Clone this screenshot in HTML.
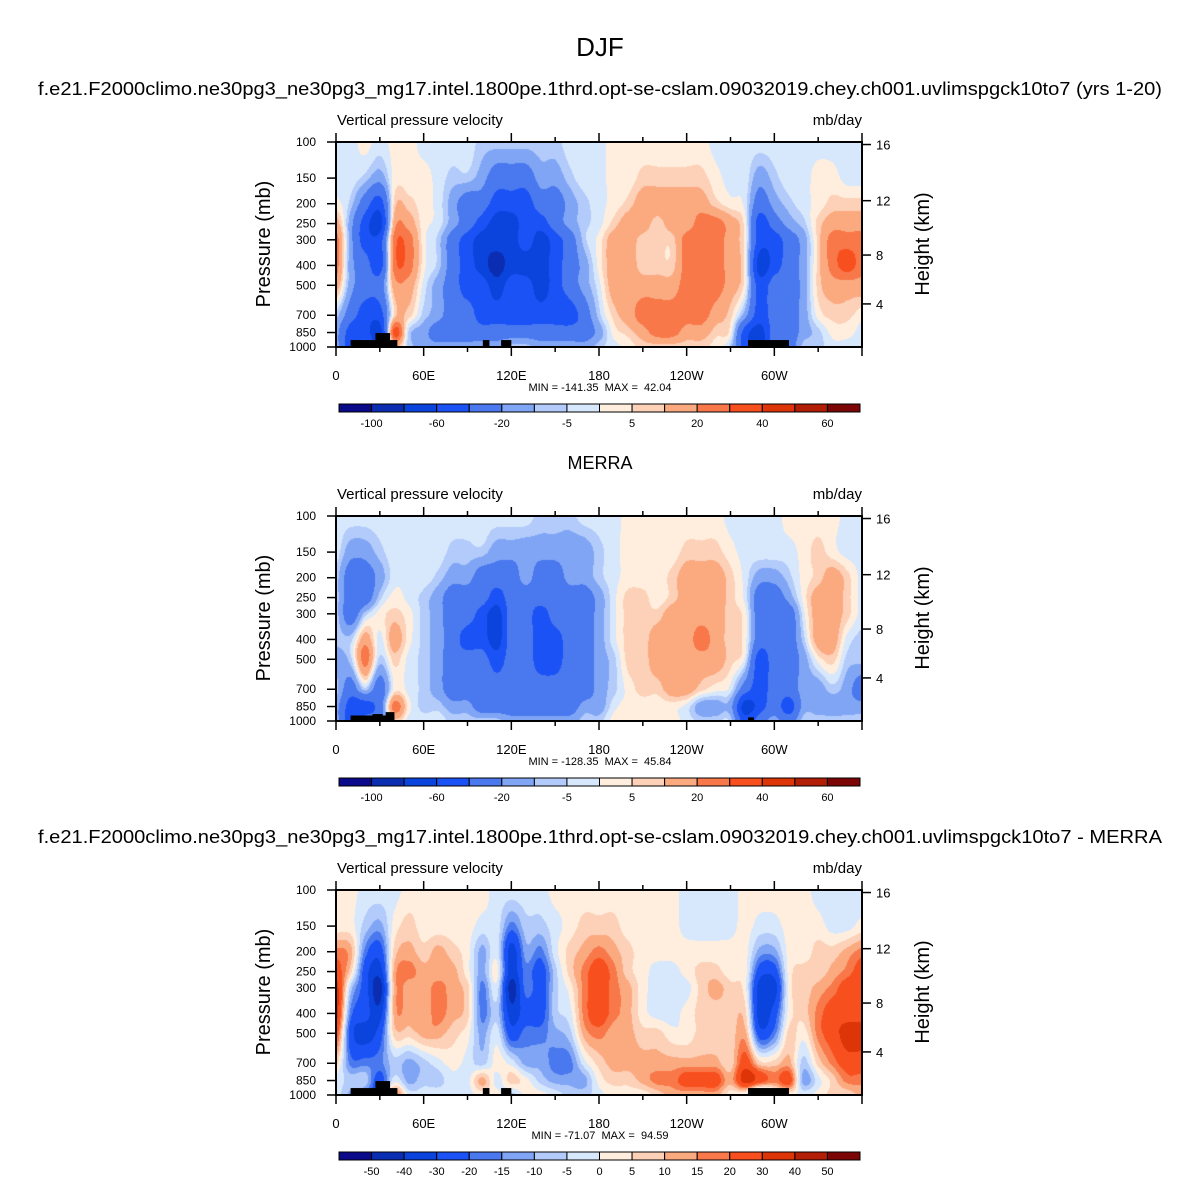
<!DOCTYPE html>
<html><head><meta charset="utf-8"><style>
html,body{margin:0;padding:0;background:#fff;}
#root{position:relative;width:1200px;height:1202px;overflow:hidden;font-family:"Liberation Sans",sans-serif;}
canvas{position:absolute;}
svg{position:absolute;left:0;top:0;}
</style></head><body>
<div id="root">
<canvas id="c1" width="526" height="205" style="left:336px;top:142px"></canvas>
<canvas id="c2" width="526" height="205" style="left:336px;top:516px"></canvas>
<canvas id="c3" width="526" height="205" style="left:336px;top:890px"></canvas>
<svg id="ov" width="1200" height="1202"></svg>
</div>
<script>
// ---- data ----
const lons = [0,10,20,30,40,50,60,70,80,90,100,110,120,130,140,150,160,170,180,190,200,210,220,230,240,250,260,270,280,290,300,310,320,330,340,350,360];
const levels = [100,150,200,250,300,400,500,700,850,1000];
const pressureTicks = [100,150,200,250,300,400,500,700,850,1000];
const heightTicks = [16,12,8,4];
const lonTicks = [0,60,120,180,240,300];
const lonTickLabels = ["0","60E","120E","180","120W","60W"];
const bounds12 = [-100,-80,-60,-40,-20,-10,-5,0,5,10,20,30,40,50,60];
const cbLabels12 = ["-100","","-60","","-20","","-5","","5","","20","","40","","60"];
const bounds3 = [-50,-40,-30,-20,-15,-10,-5,0,5,10,15,20,30,40,50];
const cbLabels3 = ["-50","-40","-30","-20","-15","-10","-5","0","5","10","15","20","30","40","50"];
const colors = ["#0a0a8a","#0a2db2","#0a44dc","#1b52f6","#4a78ee","#80a5f5","#b3cbfa","#d7e8fd","#ffeedd","#fdd0b8","#fbaa80","#f8784a","#f84f1e","#dd3408","#b21f06","#7c0606"];
const model = [
[-2,-2,2,15,25,25,15,-7,-15,-15],
[-2,-2,-7,-15,-15,-15,-15,-30,-50,-50],
[2,-7,-30,-50,-50,-30,-30,-50,-50,-30],
[-2,-15,-50,-70,-50,-50,-30,-50,-70,-70],
[2,2,7,15,25,25,15,7,35,7],
[2,2,7,15,25,25,15,7,-7,-7],
[-2,2,2,2,2,2,-2,-7,-15,-15],
[-2,-2,-2,-2,-7,-7,-15,-15,-30,-15],
[-2,-7,-15,-15,-30,-30,-30,-30,-30,-15],
[-2,-7,-30,-30,-50,-50,-50,-30,-30,-15],
[-7,-15,-30,-50,-70,-70,-50,-50,-30,-15],
[-7,-30,-50,-70,-70,-90,-70,-50,-30,-15],
[-7,-30,-50,-70,-70,-70,-50,-50,-30,-7],
[-7,-30,-50,-50,-50,-70,-50,-50,-30,-7],
[-7,-15,-30,-50,-70,-70,-70,-50,-30,-15],
[-7,-15,-30,-30,-50,-50,-50,-50,-30,-15],
[-2,-7,-15,-15,-30,-30,-30,-50,-30,-15],
[-2,-2,-7,-7,-7,-15,-15,-30,-30,-15],
[-2,-2,-2,-2,2,2,-2,-7,-15,-7],
[2,2,2,7,15,15,15,7,2,-2],
[2,2,7,15,15,15,15,15,7,2],
[2,7,15,15,7,7,15,25,15,7],
[2,7,15,7,7,7,15,25,25,7],
[2,7,15,15,7,7,15,25,25,7],
[2,7,15,15,25,25,25,25,15,7],
[2,7,15,25,25,25,25,25,15,7],
[-2,2,7,25,25,25,25,15,7,2],
[-2,-2,2,15,15,15,15,7,2,-7],
[-2,-2,-2,2,2,2,2,-15,-50,-50],
[-2,-15,-30,-50,-50,-70,-50,-50,-70,-70],
[-2,-7,-15,-30,-50,-50,-30,-30,-30,-30],
[-2,-2,-7,-15,-30,-30,-30,-30,-30,-30],
[-2,-2,-2,-7,-15,-15,-15,-15,-15,-7],
[-2,2,2,7,7,7,7,2,-7,-7],
[-2,2,7,15,25,25,15,7,2,-2],
[-2,-2,7,15,25,35,15,7,2,-2],
[-2,-2,7,15,25,25,15,2,-2,-2]];
const merra = [
[-2,-2,-7,-7,-7,-7,-15,-7,-15,-15],
[-2,-15,-30,-30,-30,-7,-7,-30,-50,-50],
[-2,-15,-30,-30,-7,15,25,-7,-50,-30],
[-2,-7,-15,-7,2,-2,-7,-30,-30,-30],
[-2,-2,-2,2,7,15,7,2,25,7],
[-2,-2,-2,-2,2,2,-2,-2,2,-2],
[-2,-2,-2,-7,-7,-7,-7,-7,-7,-2],
[-2,-2,-7,-15,-15,-15,-15,-15,-7,-2],
[-2,-7,-15,-30,-30,-30,-30,-30,-15,-7],
[-2,-7,-15,-30,-30,-50,-30,-30,-15,-7],
[-2,-7,-30,-30,-50,-50,-30,-30,-30,-7],
[-2,-15,-30,-50,-70,-70,-50,-30,-30,-7],
[-2,-15,-30,-30,-30,-30,-30,-30,-30,-15],
[-2,-15,-15,-30,-30,-30,-30,-30,-30,-15],
[-7,-15,-30,-30,-50,-50,-50,-30,-30,-15],
[-7,-15,-30,-30,-30,-50,-50,-30,-30,-15],
[-7,-15,-15,-30,-30,-30,-30,-30,-30,-15],
[-2,-15,-15,-30,-30,-30,-30,-30,-15,-7],
[-2,-7,-7,-15,-15,-15,-15,-15,-15,-7],
[-2,-2,-2,-2,-2,-2,-7,-7,-2,2],
[2,2,2,7,7,7,7,2,2,2],
[2,2,2,7,7,7,7,7,2,2],
[2,2,2,2,7,15,15,7,2,2],
[2,2,7,7,15,15,15,15,2,2],
[2,7,15,15,15,15,15,15,-2,-2],
[2,7,15,15,15,25,15,7,-15,-7],
[2,7,15,15,15,15,15,2,-15,-7],
[-2,2,7,7,7,7,7,-2,-15,-7],
[-2,-2,-2,-2,2,2,-2,-30,-70,-50],
[-2,-2,-15,-30,-30,-30,-50,-50,-50,-30],
[-2,-2,-15,-30,-30,-30,-30,-30,-30,-15],
[2,-2,-7,-15,-30,-30,-30,-30,-50,-30],
[2,2,2,2,-2,-7,-15,-15,-15,-7],
[2,7,7,15,15,15,2,-15,-15,-7],
[2,2,15,15,15,15,7,-7,-15,-7],
[-2,-2,7,7,7,-2,-7,-15,-15,-7],
[-2,-2,-2,-2,-2,-7,-7,-30,-15,-7]];
const diff = [
[2,2,17,25,35,35,25,7,-2,-2],
[2,2,12,7,-7,-17,-25,-17,-7,-12],
[-2,-7,-17,-25,-25,-25,-35,-17,-7,-17],
[-2,-12,-25,-35,-45,-35,-25,-17,-25,-25],
[-2,2,7,12,12,12,7,-7,-2,17],
[2,7,12,17,12,12,7,-12,-12,-2],
[2,2,7,12,12,12,12,-7,-7,-2],
[2,2,12,12,17,17,12,-2,-7,-2],
[2,2,7,12,12,12,7,2,-2,-2],
[2,2,2,2,7,7,2,-2,-2,-2],
[2,-2,-12,-12,-17,-17,-12,-7,12,2],
[-2,-2,-2,2,-2,-7,-2,2,-2,2],
[-2,-17,-35,-35,-45,-35,-25,-2,7,-7],
[-2,-7,-12,-17,-17,-25,-17,-12,2,2],
[-2,-7,-17,-25,-25,-25,-17,-12,-7,2],
[2,-2,-2,-7,-7,-7,-12,-17,-12,-2],
[2,2,7,7,2,-2,-7,-17,-12,-7],
[2,7,12,17,17,17,12,-2,-12,-7],
[2,7,17,25,25,25,17,7,2,-2],
[2,7,12,17,17,17,12,12,7,2],
[2,2,7,7,12,12,12,12,7,2],
[2,2,2,2,2,2,7,12,12,2],
[2,2,2,-2,-2,-2,7,12,17,7],
[2,2,2,-2,-2,-2,2,12,17,12],
[-2,-2,2,2,-2,2,2,12,25,12],
[-2,-2,2,7,7,7,7,12,25,12],
[-2,-2,2,7,12,7,7,12,25,12],
[-2,-2,2,2,7,7,7,7,12,2],
[2,2,2,2,2,7,12,25,35,-2],
[2,-2,-12,-25,-35,-35,-25,7,25,-25],
[2,-2,-12,-25,-35,-25,-17,7,17,-7],
[2,2,2,2,2,2,7,12,25,2],
[2,2,2,7,7,7,2,-7,-12,-2],
[-2,2,7,7,12,17,17,7,-2,2],
[-2,-2,7,12,17,25,25,17,7,7],
[-2,-2,12,17,25,25,35,25,17,7],
[-2,2,17,25,25,25,35,25,17,12]];
const terrainModel = [[10,42,925],[27,37,855],[100.5,105,925],[113,120,925],[282,310,925]];
const terrainMerra = [[10,40,940],[25,32,925],[34,40,905],[282,286,960]];

// ---- geometry ----
const PX0=336, PW=526, PH=205;
const tops=[142,516,890];
function xOf(lon){return PX0+lon/360*PW;}
function yOf(p,top){return top+PH*Math.log10(p/100);}
function stdP(hkm){const h=hkm*1000;return h<=11000?1013.25*Math.pow(1-2.25577e-5*h,5.25588):226.32*Math.exp(-(h-11000)/6341.6);}
function hY(h,top){return yOf(stdP(h),top);}

function binIdx(v,b){let i=0;while(i<b.length&&v>=b[i])i++;return i;}
function hex(c){return [parseInt(c.slice(1,3),16),parseInt(c.slice(3,5),16),parseInt(c.slice(5,7),16)];}
const rgb=colors.map(hex);
function cr(p0,p1,p2,p3,t){return 0.5*((2*p1)+(-p0+p2)*t+(2*p0-5*p1+4*p2-p3)*t*t+(-p0+3*p1-3*p2+p3)*t*t*t);}

function drawField(id,data,bounds){
  const cv=document.getElementById(id),ctx=cv.getContext('2d');
  const img=ctx.createImageData(PW,PH);
  const lp=levels.map(p=>Math.log10(p/100)*PH);
  const nC=data.length,nR=levels.length;
  const g=(c,r)=>data[Math.max(0,Math.min(nC-1,c))][Math.max(0,Math.min(nR-1,r))];
  for(let y=0;y<PH;y++){
    let r=0;while(r<nR-2&&y+0.5>lp[r+1])r++;
    let fy=(y+0.5-lp[r])/(lp[r+1]-lp[r]);fy=Math.max(0,Math.min(1,fy));
    for(let x=0;x<PW;x++){
      const lon=(x+0.5)/PW*360;
      const c=Math.min(nC-2,Math.floor(lon/10));
      const fx=(lon-lons[c])/(lons[c+1]-lons[c]);
      const rows=[];
      for(let k=-1;k<=2;k++)rows.push(cr(g(c-1,r+k),g(c,r+k),g(c+1,r+k),g(c+2,r+k),fx));
      const v=cr(rows[0],rows[1],rows[2],rows[3],fy);
      const col=rgb[binIdx(v,bounds)];const o=(y*PW+x)*4;
      img.data[o]=col[0];img.data[o+1]=col[1];img.data[o+2]=col[2];img.data[o+3]=255;
    }
  }
  ctx.putImageData(img,0,0);
}
drawField('c1',model,bounds12);
drawField('c2',merra,bounds12);
drawField('c3',diff,bounds3);

// ---- overlay ----
const NS="http://www.w3.org/2000/svg",ov=document.getElementById('ov');
function mk(tag,attrs,parent){const e=document.createElementNS(NS,tag);for(const k in attrs)e.setAttribute(k,attrs[k]);(parent||ov).appendChild(e);return e;}
function txt(s,x,y,size,anchor,parent){const t=mk('text',{x:x,y:y,'font-size':size,'text-anchor':anchor||'start',fill:'#000'},parent);t.textContent=s;return t;}

const figTitle=txt("DJF",600,56,26,'middle');



const caseName="f.e21.F2000climo.ne30pg3_ne30pg3_mg17.intel.1800pe.1thrd.opt-se-cslam.09032019.chey.ch001.uvlimspgck10to7";
const titles=[caseName+" (yrs 1-20)","MERRA",caseName+" - MERRA"];
const titleW=[1124,0,1124];
const panelNames=['model','merra','difference'];

for(let i=0;i<3;i++){
  const top=tops[i];
  const g=mk('g',{});
  
  
  const t=txt(titles[i],600,top-47,18,'middle',g);
  if(titleW[i]){t.setAttribute('textLength',titleW[i]);t.setAttribute('lengthAdjust','spacingAndGlyphs');}
  
  
  const lt=txt("Vertical pressure velocity",337,top-17,15,'start',g);
  
  
  const rt=txt("mb/day",862,top-17,15,'end',g);
  
  
  const terr=i===1?terrainMerra:terrainModel;
  terr.forEach(b=>{
    const r=mk('rect',{x:xOf(b[0]),y:yOf(b[2],top),width:xOf(b[1])-xOf(b[0]),height:yOf(1000,top)-yOf(b[2],top),fill:'#000'},g);
    
    
  });
  const fr=mk('rect',{x:PX0,y:top,width:PW,height:PH,fill:'none',stroke:'#000','stroke-width':2},g);
  
  
  for(let L=0;L<=360;L+=30){
    const x=xOf(L),major=L%60===0,len=major?9:5;
    mk('line',{x1:x,x2:x,y1:top+PH,y2:top+PH+len,stroke:'#000','stroke-width':1.5},g);
    mk('line',{x1:x,x2:x,y1:top,y2:top-len,stroke:'#000','stroke-width':1.5},g);
  }
  lonTicks.forEach((L,k)=>{
    const l=txt(lonTickLabels[k],xOf(L),top+PH+33,13,'middle',g);
    
    
  });
  pressureTicks.forEach(p=>{
    const y=yOf(p,top);
    mk('line',{x1:PX0,x2:PX0-9,y1:y,y2:y,stroke:'#000','stroke-width':1.5},g);
    const l=txt(String(p),316,y+4,12,'end',g);
    
    
  });
  heightTicks.forEach(h=>{
    const y=hY(h,top);
    mk('line',{x1:PX0+PW,x2:PX0+PW+9,y1:y,y2:y,stroke:'#000','stroke-width':1.5},g);
    const l=txt(String(h),876,y+5,13,'start',g);
    
    
  });
  const yl=txt("Pressure (mb)",0,0,20,'middle',g);
  yl.setAttribute('transform',`translate(270,${top+102}) rotate(-90)`);
  
  
  const hl=txt("Height (km)",0,0,20,'middle',g);
  hl.setAttribute('transform',`translate(929,${top+102}) rotate(-90)`);
  
  
  const mm=["MIN = -141.35  MAX =  42.04","MIN = -128.35  MAX =  45.84","MIN = -71.07  MAX =  94.59"][i];
  const ml=txt(mm,600,top+249,11,'middle',g);
  ml.style.whiteSpace='pre';
  
  
  const cb=mk('g',{},g);
  
  
  const cy=top+262,cx=339,cw=521/16;
  colors.forEach((c,k)=>{
    const r=mk('rect',{x:cx+k*cw,y:cy,width:cw,height:8,fill:c,stroke:'#000','stroke-width':1},cb);
    
    
  });
  const labs=i===2?cbLabels3:cbLabels12;
  labs.forEach((s,k)=>{
    if(!s)return;
    const l=txt(s,cx+(k+1)*cw,cy+23,11,'middle',cb);
    
    
  });
}
</script>
</body></html>
